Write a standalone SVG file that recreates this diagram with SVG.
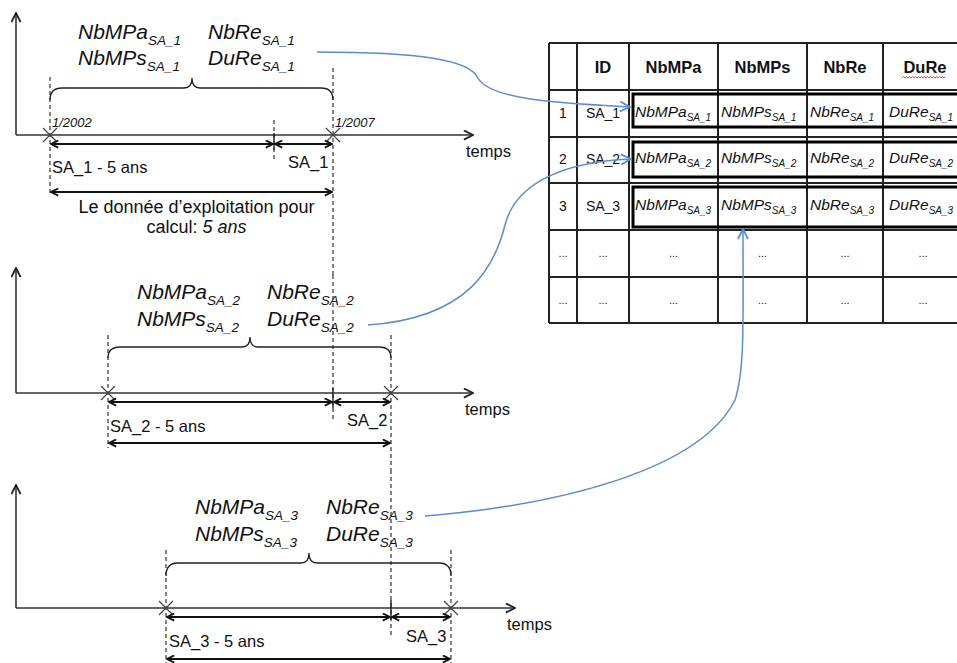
<svg xmlns="http://www.w3.org/2000/svg" width="957" height="663" viewBox="0 0 957 663">
<style>
text{font-family:"Liberation Sans",Arial,sans-serif;fill:#111}
.lab{font-size:21px;font-style:italic}
.sub{font-size:13.5px}
.sm{font-size:16.5px}
.date{font-size:13px;font-style:italic}
.axis{stroke:#333;stroke-width:1.6;fill:none}
.dash{stroke:#333;stroke-width:1.2;stroke-dasharray:4 3;fill:none}
.tick{stroke:#222;stroke-width:1.4;fill:none}
.cross{stroke:#444;stroke-width:1.2;fill:none}
.brace{stroke:#222;stroke-width:1.3;fill:none}
.dbl{stroke:#111;stroke-width:2;fill:none}
.grid{stroke:#222;stroke-width:2;fill:none}
.box{stroke:#000;stroke-width:3;fill:none}
.hd{font-size:16.5px;font-weight:bold;text-anchor:middle}
.cell{font-size:14px;text-anchor:middle}
.dots{font-size:11px;text-anchor:middle}
.it{font-size:15.5px;font-style:italic}
.isub{font-size:10px}
.blue{stroke:#5b8ec9;stroke-width:1.5;fill:none}
</style>
<defs>
<marker id="ah" viewBox="0 0 10 10" refX="9" refY="5" markerWidth="9" markerHeight="9" markerUnits="userSpaceOnUse" orient="auto-start-reverse">
<path d="M1,1 L9,5 L1,9" fill="none" stroke="#111" stroke-width="2"/>
</marker>
<marker id="ax" viewBox="0 0 12 12" refX="11" refY="6" markerWidth="11" markerHeight="11" markerUnits="userSpaceOnUse" orient="auto">
<path d="M1,1 L11,6 L1,11" fill="none" stroke="#222" stroke-width="2"/>
</marker>
<marker id="bh" viewBox="0 0 12 12" refX="11" refY="6" markerWidth="12" markerHeight="12" markerUnits="userSpaceOnUse" orient="auto">
<path d="M1,1 L11,6 L1,11" fill="none" stroke="#5b8ec9" stroke-width="1.8"/>
</marker>
</defs>

<g id="timeline1">
<line class="axis" x1="16" y1="135" x2="16" y2="13" marker-end="url(#ax)"/>
<line class="axis" x1="16" y1="135" x2="473" y2="135" marker-end="url(#ax)"/>
<line class="dash" x1="50" y1="77" x2="50" y2="196"/>
<line class="dash" x1="333" y1="68" x2="333" y2="275"/>
<line class="dash" x1="274" y1="120" x2="274" y2="160"/>
<line class="tick" x1="274" y1="133" x2="274" y2="150"/>
<path class="cross" d="M43,128 L57,142 M43,142 L57,128 M326,128 L340,142 M326,142 L340,128"/>
<path class="brace" d="M50,100 Q50,88 62,88 L184,88 Q192,88 192,78 Q192,88 200,88 L321,88 Q333,88 333,100"/>
<line class="dbl" x1="51" y1="144" x2="273" y2="144" marker-start="url(#ah)" marker-end="url(#ah)"/>
<line class="dbl" x1="275" y1="144" x2="332" y2="144" marker-start="url(#ah)" marker-end="url(#ah)"/>
<line class="dbl" x1="51" y1="192" x2="332" y2="192" stroke-width="2.4" marker-start="url(#ah)" marker-end="url(#ah)"/>
<text class="lab" x="78" y="39">NbMPa<tspan class="sub" dy="6">SA_1</tspan></text>
<text class="lab" x="78" y="65">NbMPs<tspan class="sub" dy="6">SA_1</tspan></text>
<text class="lab" x="208" y="39">NbRe<tspan class="sub" dy="6">SA_1</tspan></text>
<text class="lab" x="208" y="65">DuRe<tspan class="sub" dy="6">SA_1</tspan></text>
<text class="date" x="52" y="127">1/2002</text>
<text class="date" x="335" y="127">1/2007</text>
<text class="sm" x="466" y="157">temps</text>
<text class="sm" x="52" y="173">SA_1 - 5 ans</text>
<text class="sm" x="288" y="168">SA_1</text>
<text x="196.5" y="213" font-size="18" text-anchor="middle">Le donnée d’exploitation pour</text>
<text x="196.5" y="233" font-size="18" text-anchor="middle">calcul: <tspan font-style="italic">5 ans</tspan></text>
</g>

<g id="timeline2">
<line class="axis" x1="16" y1="393" x2="16" y2="268" marker-end="url(#ax)"/>
<line class="axis" x1="16" y1="393" x2="473" y2="393" marker-end="url(#ax)"/>
<line class="dash" x1="333" y1="275" x2="333" y2="420"/>
<line class="tick" x1="333" y1="388" x2="333" y2="408"/>
<line class="dash" x1="108" y1="335" x2="108" y2="448"/>
<line class="dash" x1="391" y1="335" x2="391" y2="470"/>
<path class="cross" d="M101,386 L115,400 M101,400 L115,386 M384,386 L398,400 M384,400 L398,386"/>
<path class="brace" d="M108,358 Q108,347 120,347 L242,347 Q250,347 250,337 Q250,347 258,347 L379,347 Q391,347 391,358"/>
<line class="dbl" x1="109" y1="402" x2="332" y2="402" marker-start="url(#ah)" marker-end="url(#ah)"/>
<line class="dbl" x1="334" y1="402" x2="390" y2="402" marker-start="url(#ah)" marker-end="url(#ah)"/>
<line class="dbl" x1="109" y1="443" x2="390" y2="443" stroke-width="2.4" marker-start="url(#ah)" marker-end="url(#ah)"/>
<text class="lab" x="137" y="299">NbMPa<tspan class="sub" dy="6">SA_2</tspan></text>
<text class="lab" x="137" y="326">NbMPs<tspan class="sub" dy="6">SA_2</tspan></text>
<text class="lab" x="267" y="299">NbRe<tspan class="sub" dy="6">SA_2</tspan></text>
<text class="lab" x="267" y="326">DuRe<tspan class="sub" dy="6">SA_2</tspan></text>
<text class="sm" x="465" y="415">temps</text>
<text class="sm" x="110" y="432">SA_2 - 5 ans</text>
<text class="sm" x="347" y="426">SA_2</text>
</g>

<g id="timeline3">
<line class="axis" x1="16" y1="608" x2="16" y2="485" marker-end="url(#ax)"/>
<line class="axis" x1="16" y1="608" x2="515" y2="608" marker-end="url(#ax)"/>
<line class="dash" x1="391" y1="470" x2="391" y2="635"/>
<line class="tick" x1="391" y1="600" x2="391" y2="620"/>
<line class="dash" x1="166" y1="550" x2="166" y2="663"/>
<line class="dash" x1="451" y1="550" x2="451" y2="663"/>
<path class="cross" d="M159,601 L173,615 M159,615 L173,601 M444,601 L458,615 M444,615 L458,601"/>
<path class="brace" d="M166,576 Q166,563 178,563 L301,563 Q309,563 309,553 Q309,563 317,563 L439,563 Q451,563 451,576"/>
<line class="dbl" x1="167" y1="617" x2="390" y2="617" marker-start="url(#ah)" marker-end="url(#ah)"/>
<line class="dbl" x1="392" y1="617" x2="450" y2="617" marker-start="url(#ah)" marker-end="url(#ah)"/>
<line class="dbl" x1="167" y1="659" x2="450" y2="659" stroke-width="2.4" marker-start="url(#ah)" marker-end="url(#ah)"/>
<text class="lab" x="195" y="514">NbMPa<tspan class="sub" dy="6">SA_3</tspan></text>
<text class="lab" x="195" y="541">NbMPs<tspan class="sub" dy="6">SA_3</tspan></text>
<text class="lab" x="326" y="514">NbRe<tspan class="sub" dy="6">SA_3</tspan></text>
<text class="lab" x="326" y="541">DuRe<tspan class="sub" dy="6">SA_3</tspan></text>
<text class="sm" x="507" y="630">temps</text>
<text class="sm" x="169" y="647">SA_3 - 5 ans</text>
<text class="sm" x="406" y="642">SA_3</text>
</g>

<g id="table">
<rect x="549" y="43" width="420" height="280" fill="#fff" stroke="none"/>
<path class="grid" d="M549,43 V323 M577,43 V323 M629,43 V323 M718,43 V323 M807,43 V323 M883,43 V323 M549,43 H960 M549,90 H960 M549,137 H960 M549,183 H960 M549,230 H960 M549,277 H960 M549,323 H960"/>
<rect class="box" x="633" y="94" width="340" height="33"/>
<rect class="box" x="633" y="142" width="340" height="35"/>
<rect class="box" x="633" y="187" width="340" height="40"/>
<text class="hd" x="603" y="73">ID</text>
<text class="hd" x="673.5" y="73">NbMPa</text>
<text class="hd" x="762.5" y="73">NbMPs</text>
<text class="hd" x="845" y="73">NbRe</text>
<text class="hd" x="925" y="73">DuRe</text>
<path d="M902,78 l1.5,-1.5 l1.5,1.5 l1.5,-1.5 l1.5,1.5 l1.5,-1.5 l1.5,1.5 l1.5,-1.5 l1.5,1.5 l1.5,-1.5 l1.5,1.5 l1.5,-1.5 l1.5,1.5 l1.5,-1.5 l1.5,1.5 l1.5,-1.5 l1.5,1.5 l1.5,-1.5 l1.5,1.5 l1.5,-1.5 l1.5,1.5 l1.5,-1.5 l1.5,1.5 l1.5,-1.5 l1.5,1.5 l1.5,-1.5 l1.5,1.5 l1.5,-1.5 l1.5,1.5 l1.5,-1.5" fill="none" stroke="#e03030" stroke-width="0.9"/>
<text class="cell" x="563" y="118">1</text>
<text class="cell" x="603" y="118">SA_1</text>
<text class="cell" x="563" y="164">2</text>
<text class="cell" x="603" y="164">SA_2</text>
<text class="cell" x="563" y="211">3</text>
<text class="cell" x="603" y="211">SA_3</text>
<text class="it" x="635" y="117">NbMPa<tspan class="isub" dy="4">SA_1</tspan></text>
<text class="it" x="721" y="117">NbMPs<tspan class="isub" dy="4">SA_1</tspan></text>
<text class="it" x="810" y="117">NbRe<tspan class="isub" dy="4">SA_1</tspan></text>
<text class="it" x="889" y="117">DuRe<tspan class="isub" dy="4">SA_1</tspan></text>
<text class="it" x="635" y="163">NbMPa<tspan class="isub" dy="4">SA_2</tspan></text>
<text class="it" x="721" y="163">NbMPs<tspan class="isub" dy="4">SA_2</tspan></text>
<text class="it" x="810" y="163">NbRe<tspan class="isub" dy="4">SA_2</tspan></text>
<text class="it" x="889" y="163">DuRe<tspan class="isub" dy="4">SA_2</tspan></text>
<text class="it" x="635" y="210">NbMPa<tspan class="isub" dy="4">SA_3</tspan></text>
<text class="it" x="721" y="210">NbMPs<tspan class="isub" dy="4">SA_3</tspan></text>
<text class="it" x="810" y="210">NbRe<tspan class="isub" dy="4">SA_3</tspan></text>
<text class="it" x="889" y="210">DuRe<tspan class="isub" dy="4">SA_3</tspan></text>
<text class="dots" x="563" y="257">...</text>
<text class="dots" x="603" y="257">...</text>
<text class="dots" x="673.5" y="257">...</text>
<text class="dots" x="762.5" y="257">...</text>
<text class="dots" x="845" y="257">...</text>
<text class="dots" x="923" y="257">...</text>
<text class="dots" x="563" y="304">...</text>
<text class="dots" x="603" y="304">...</text>
<text class="dots" x="673.5" y="304">...</text>
<text class="dots" x="762.5" y="304">...</text>
<text class="dots" x="845" y="304">...</text>
<text class="dots" x="923" y="304">...</text>
</g>

<g id="connectors">
<path class="blue" d="M317,52 C420,52 470,60 478,78 C490,100 560,103 630,107" marker-end="url(#bh)"/>
<path class="blue" d="M368,325 C470,318 495,265 505,225 C515,185 560,162 631,159" marker-end="url(#bh)"/>
<path class="blue" d="M425,516 C560,505 700,470 735,400 C745,370 743,320 743,229" marker-end="url(#bh)"/>
</g>
</svg>
